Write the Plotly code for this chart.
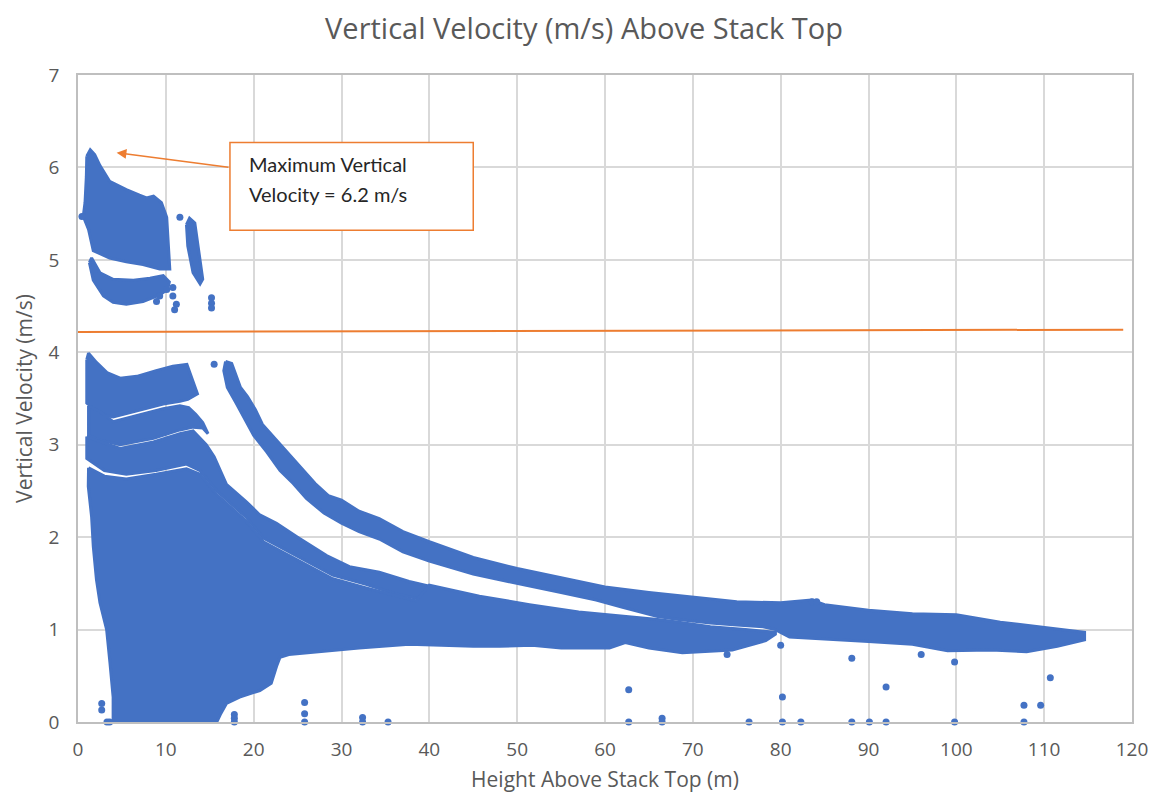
import plotly.graph_objects as go

BLUE = "#4472C4"
ORANGE = "#ED7D31"
GREY_TXT = "#595959"

# ---------------- data ----------------
# Dense point clouds are given as outlines of the areas that the markers cover.
# Upper cluster (above the orange line)
top_block_x = [1.0, 1.4, 1.9, 2.5, 3.6, 5.5, 7.0, 7.8, 8.6, 9.5, 10.1, 10.3, 10.45,
               9.3, 7.4, 5.5, 3.6, 1.74, 1.2, 0.6, 0.8, 0.95]
top_block_y = [6.12, 6.19, 6.14, 6.02, 5.85, 5.76, 5.70, 5.67, 5.69, 5.62, 5.46, 5.15, 4.90,
               4.90, 4.95, 4.98, 5.02, 5.10, 5.33, 5.47, 5.62, 5.90]

top_arc_x = [1.3, 1.55, 2.5, 4.0, 6.3, 8.2, 9.7, 10.4, 10.2, 9.3, 7.4, 5.5, 4.0, 2.9, 1.74]
top_arc_y = [4.97, 5.02, 4.86, 4.79, 4.78, 4.80, 4.83, 4.76, 4.68, 4.62, 4.55, 4.52, 4.54, 4.61, 4.78]

top_streak_x = [12.35, 12.7, 13.3, 13.5, 13.9, 14.2, 13.9, 13.1, 12.5]
top_streak_y = [5.38, 5.45, 5.40, 5.26, 4.97, 4.79, 4.74, 4.86, 5.15]

# Bands below the orange line
band1_x = [1.0, 1.2, 2.1, 3.3, 4.8, 6.7, 8.9, 10.8, 12.4, 13.1, 13.6,
           12.5, 11.6, 9.7, 6.7, 4.0, 2.5, 1.0]
band1_y = [3.92, 3.99, 3.89, 3.78, 3.72, 3.74, 3.80, 3.85, 3.87, 3.68, 3.55,
           3.49, 3.47, 3.44, 3.37, 3.30, 3.33, 3.45]

band2_x = [1.2, 2.5, 4.0, 6.7, 9.7, 11.6, 12.6, 13.4, 14.2, 14.8,
           14.2, 13.1, 11.6, 8.6, 4.8, 2.5, 1.2]
band2_y = [3.42, 3.36, 3.25, 3.32, 3.39, 3.42, 3.40, 3.33, 3.24, 3.12,
           3.18, 3.19, 3.16, 3.07, 3.00, 3.05, 3.10]

band3_x = [1.0, 2.0, 4.8, 8.6, 11.6, 13.1, 14.6, 15.5, 16.9, 19.2, 20.7, 22.6, 25.0,
           28.3, 30.9, 34.3, 37.7, 40.0,
           40.0, 38.5, 36.0, 32.8, 29.0, 25.2, 23.3, 21.1, 19.2, 17.6, 15.8,
           13.9, 12.35, 8.9, 5.5, 3.0, 1.0]
band3_y = [3.09, 3.05, 2.96, 3.03, 3.12, 3.15, 3.00, 2.87, 2.57, 2.38, 2.24, 2.15, 2.00,
           1.80, 1.68, 1.62, 1.52, 1.47,
           1.38, 1.34, 1.39, 1.49, 1.59, 1.78, 1.88, 1.99, 2.21, 2.35, 2.50,
           2.72, 2.79, 2.72, 2.68, 2.72, 2.85]

main_x = [1.2, 3.0, 5.5, 8.9, 12.35, 13.9, 15.8, 17.6, 19.2, 21.1, 23.3, 25.2, 29.0,
          32.8, 36.0, 38.5, 40.0, 45.7, 51.4, 57.0, 62.7, 66.0, 68.4, 72.0, 76.0, 79.4,
          79.4, 78.3, 74.5, 68.8, 65.0, 62.3, 60.5, 55.0, 51.7, 48.0, 45.0, 37.7,
          32.0, 28.3, 24.0, 23.0, 22.6, 22.0, 20.7, 18.4, 16.9, 16.2, 15.8,
          4.0, 4.0, 3.64, 3.26, 2.5, 2.1, 1.74, 1.55, 1.17]
main_y = [2.75, 2.66, 2.63, 2.68, 2.74, 2.68, 2.46, 2.31, 2.17, 1.95, 1.84, 1.74, 1.55,
          1.45, 1.37, 1.31, 1.48, 1.36, 1.27, 1.19, 1.14, 1.11, 1.08, 1.03, 1.00, 0.97,
          0.95, 0.88, 0.78, 0.75, 0.80, 0.86, 0.80, 0.80, 0.83, 0.82, 0.82, 0.84,
          0.80, 0.77, 0.73, 0.70, 0.60, 0.42, 0.34, 0.27, 0.20, 0.08, 0.0,
          0.0, 0.27, 0.64, 1.00, 1.29, 1.54, 1.90, 2.22, 2.55]

arcH_x = [16.8, 17.5, 18.5, 19.3, 20.2, 21.0, 22.5, 24.0, 25.5, 27.0, 28.5, 30.0, 32.0,
          34.3, 37.0, 40.0, 45.0, 50.0, 55.0, 60.0, 65.0, 70.0, 75.0, 80.0, 83.5, 85.0,
          90.0, 95.0, 100.0, 105.0, 110.0, 114.6,
          114.6, 111.5, 108.0, 104.0, 99.0, 95.0, 90.0, 85.0, 81.0, 79.4, 78.0, 75.0,
          72.0, 68.4, 66.0, 62.0, 59.0, 55.0, 50.0, 45.0, 40.0, 37.0, 34.3, 32.0, 30.0,
          28.0, 26.0, 24.5, 23.0, 21.5, 20.0, 19.0, 18.0, 17.0, 16.6]
arcH_y = [3.90, 3.88, 3.62, 3.52, 3.38, 3.22, 3.06, 2.90, 2.75, 2.58, 2.45, 2.40, 2.28,
          2.20, 2.06, 1.95, 1.78, 1.66, 1.56, 1.46, 1.40, 1.35, 1.30, 1.29, 1.32, 1.27,
          1.21, 1.17, 1.16, 1.08, 1.02, 0.97,
          0.89, 0.82, 0.76, 0.78, 0.77, 0.84, 0.87, 0.90, 0.92, 1.00, 1.03, 1.05,
          1.07, 1.11, 1.14, 1.24, 1.32, 1.40, 1.50, 1.60, 1.74, 1.84, 1.98, 2.06, 2.15,
          2.26, 2.42, 2.58, 2.72, 2.92, 3.10, 3.28, 3.45, 3.62, 3.80]

# Isolated points
dots_x = [11.6, 9.3, 8.94, 10.1, 10.8, 10.8, 11.2, 11.0, 15.2, 15.2, 15.2, 15.5, 0.45,
          2.7, 2.7, 3.3, 3.6, 17.8, 17.8, 17.8, 25.8, 25.8, 25.8, 32.4, 32.4, 35.3,
          62.7, 62.7, 66.5, 66.5, 73.9, 76.4,
          80.0, 80.2, 80.2, 82.3, 88.1, 88.1, 90.1, 92.0, 92.0, 96.0, 99.8, 99.8,
          107.7, 107.7, 109.6, 110.7, 83.6, 84.1]
dots_y = [5.46, 4.61, 4.55, 4.68, 4.70, 4.61, 4.52, 4.46, 4.59, 4.53, 4.48, 3.87, 5.47,
          0.20, 0.13, 0.0, 0.0, 0.08, 0.04, 0.0, 0.21, 0.09, 0.0, 0.05, 0.0, 0.0,
          0.35, 0.0, 0.04, 0.0, 0.73, 0.0,
          0.83, 0.27, 0.0, 0.0, 0.69, 0.0, 0.0, 0.38, 0.0, 0.73, 0.65, 0.0,
          0.18, 0.0, 0.18, 0.48, 1.30, 1.30]

# Orange threshold line
limit_x = [0, 119]
limit_y = [4.22, 4.245]

x_ticks = list(range(0, 121, 10))
y_ticks = list(range(0, 8, 1))

# ---------------- figure ----------------
fig = go.Figure()

def area(xs, ys):
    fig.add_trace(go.Scatter(
        x=xs + xs[:1], y=ys + ys[:1], mode="lines", fill="toself",
        fillcolor=BLUE, line=dict(color=BLUE, width=3),
        hoverinfo="skip", showlegend=False))

for xs, ys in [(top_block_x, top_block_y), (top_arc_x, top_arc_y),
               (top_streak_x, top_streak_y), (band1_x, band1_y), (band2_x, band2_y),
               (band3_x, band3_y), (main_x, main_y), (arcH_x, arcH_y)]:
    area(xs, ys)

fig.add_trace(go.Scatter(x=dots_x, y=dots_y, mode="markers",
                         marker=dict(color=BLUE, size=7), cliponaxis=False,
                         hoverinfo="skip", showlegend=False))

fig.add_trace(go.Scatter(x=limit_x, y=limit_y, mode="lines",
                         line=dict(color=ORANGE, width=2),
                         hoverinfo="skip", showlegend=False))

# callout box
fig.add_shape(type="rect", xref="x", yref="y", x0=17.3, x1=45.0, y0=5.32, y1=6.27,
              line=dict(color=ORANGE, width=1.5), fillcolor="white", layer="above")
fig.add_annotation(x=19.2, y=6.035, xref="x", yref="y", text="Maximum Vertical",
                   showarrow=False, xanchor="left", yanchor="middle",
                   font=dict(family="Lato", size=20, color="#262626"))
fig.add_annotation(x=19.2, y=5.71, xref="x", yref="y", text="Velocity = 6.2 m/s",
                   showarrow=False, xanchor="left", yanchor="middle",
                   font=dict(family="Lato", size=20, color="#262626"))
fig.add_annotation(x=4.4, y=6.16, ax=17.3, ay=6.0, xref="x", yref="y",
                   axref="x", ayref="y", text="", showarrow=True,
                   arrowhead=2, arrowsize=1.3, arrowwidth=1.5, arrowcolor=ORANGE,
                   standoff=0, startstandoff=0)

axis_font = dict(family="Open Sans", size=19, color=GREY_TXT)
fig.update_layout(
    width=1152, height=792,
    margin=dict(l=70, r=25, t=67, b=78),
    paper_bgcolor="white", plot_bgcolor="white",
    title=dict(text="Vertical Velocity (m/s) Above Stack Top", x=0.5, xanchor="center",
               y=(792 - 21) / 792, yanchor="middle",
               font=dict(family="Open Sans", size=29, color=GREY_TXT)),
    xaxis=dict(range=[0, 120], tickvals=x_ticks, showgrid=True, gridcolor="#d9d9d9",
               gridwidth=1.5, showline=True, mirror=True, linecolor="#bfbfbf",
               linewidth=1.5, zeroline=False, tickfont=axis_font, ticks="",
               ticklabelstandoff=9,
               title=dict(text="Height Above Stack Top (m)", standoff=12,
                          font=dict(family="Open Sans", size=21, color=GREY_TXT))),
    yaxis=dict(range=[0, 7], tickvals=y_ticks, showgrid=True, gridcolor="#d9d9d9",
               gridwidth=1.5, showline=True, mirror=True, linecolor="#bfbfbf",
               linewidth=1.5, zeroline=False, tickfont=axis_font, ticks="",
               ticklabelstandoff=13,
               title=dict(text="Vertical Velocity (m/s)", standoff=10,
                          font=dict(family="Open Sans", size=21, color=GREY_TXT))),
)

fig.write_html("out.html")
